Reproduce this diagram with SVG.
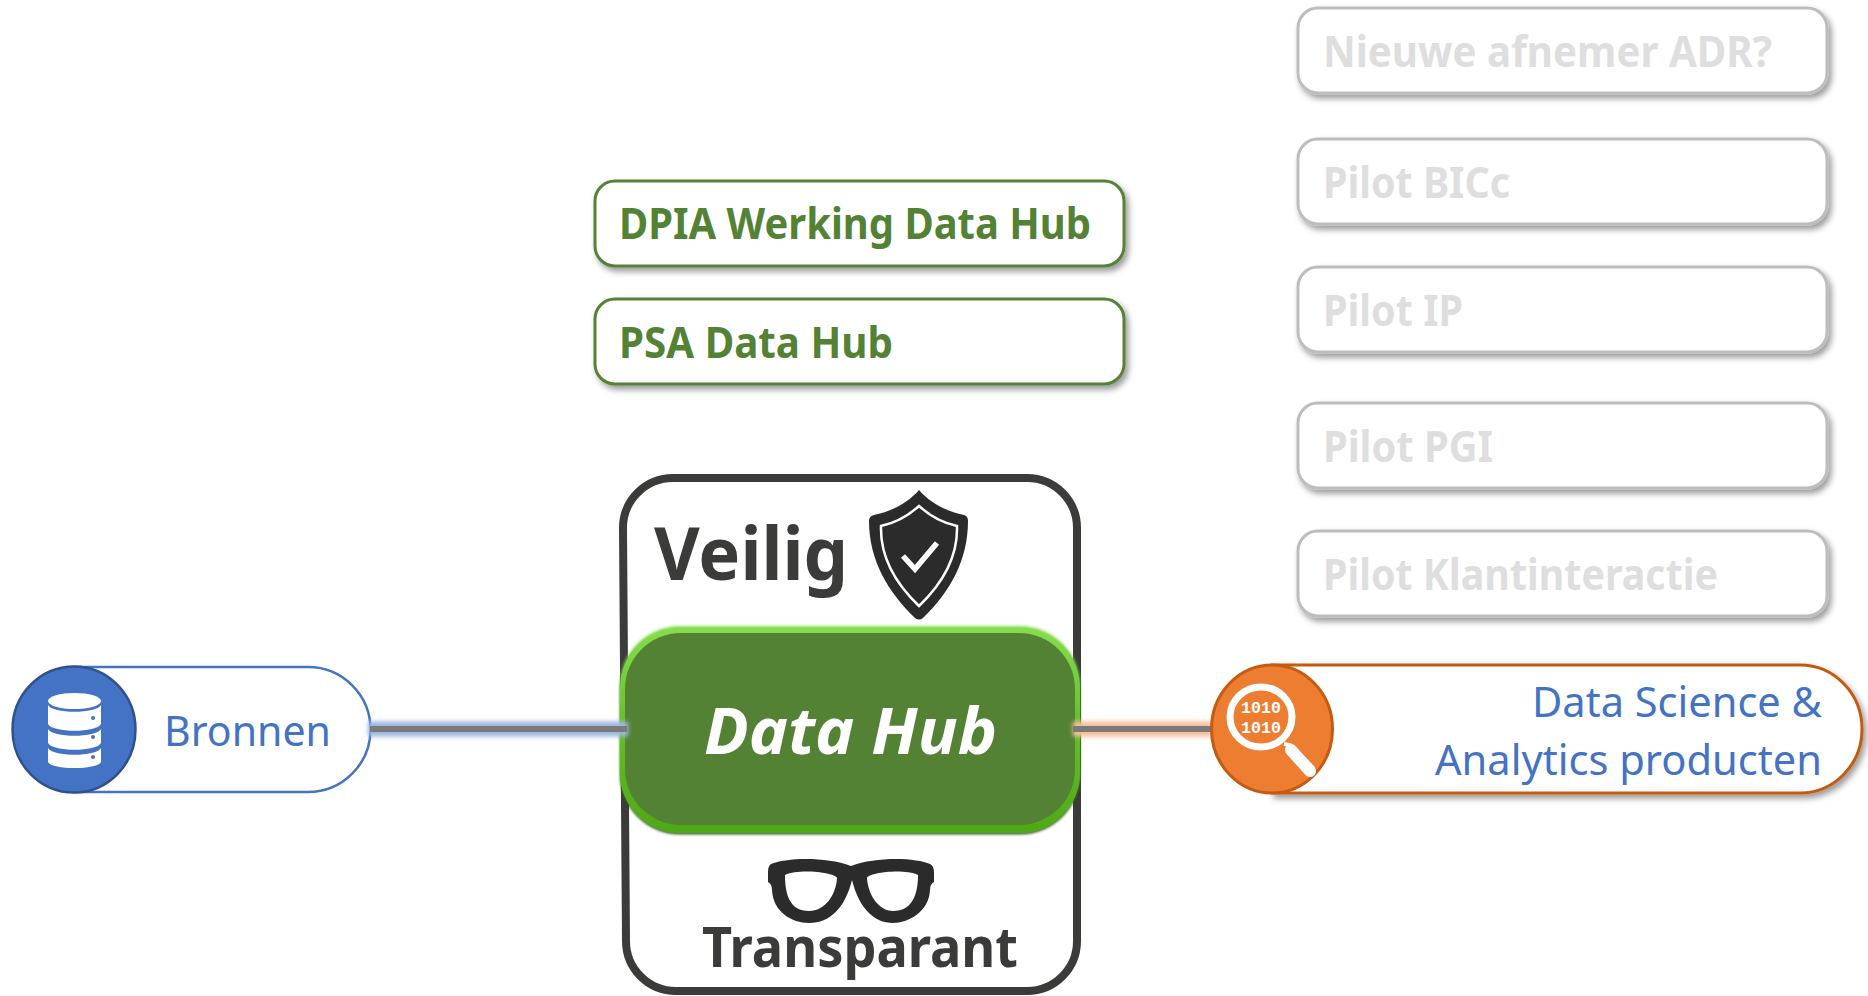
<svg xmlns="http://www.w3.org/2000/svg" width="1868" height="996" viewBox="0 0 1868 996">
<style>
text{font-family:"Noto Sans","Open Sans","Liberation Sans",sans-serif}
.b{font-weight:700;font-size:43px}
.grey rect{fill:#fff;stroke:#BDBDBD;stroke-width:3;filter:url(#sh)}
.grey text{fill:#DEDEDE}
.green rect{fill:#fff;stroke:#548235;stroke-width:3;filter:url(#sh)}
.green text{fill:#548235}
.blue{fill:#4472C4;font-size:42px}
.conn{stroke:#7A7A7A;stroke-width:6;fill:none}
.ink{fill:#3B3B3A;font-weight:700}
.icon{fill:#2B2B2B}
.bits{font-family:"Liberation Mono",monospace;font-size:17px;font-weight:700;fill:#fff}
</style>
<defs>
<filter id="sh" x="-5%" y="-20%" width="110%" height="150%"><feDropShadow dx="3" dy="4" stdDeviation="3" flood-color="#000" flood-opacity=".4"/></filter>
<filter id="bl" filterUnits="userSpaceOnUse" x="300" y="690" width="1000" height="80"><feGaussianBlur stdDeviation="2"/></filter>
<filter id="soft" x="-5%" y="-5%" width="110%" height="110%"><feGaussianBlur stdDeviation="1.500"/></filter>
<filter id="dark" x="-5%" y="-5%" width="110%" height="110%"><feDropShadow dx="0" dy="1.500" stdDeviation="1" flood-color="#1F3A0C" flood-opacity=".8"/></filter>
<linearGradient id="rim" x1="0" y1="0" x2="0" y2="1"><stop offset="0" stop-color="#86DD4E"/><stop offset=".5" stop-color="#62BF28"/><stop offset="1" stop-color="#4FA816"/></linearGradient>
</defs>

<g id="node-adr" class="grey"><rect x="1298" y="8" width="529" height="85" rx="20"/><text class="b" x="1323" y="67" textLength="449" lengthAdjust="spacingAndGlyphs">Nieuwe afnemer ADR?</text></g>
<g id="node-bicc" class="grey"><rect x="1298" y="139" width="529" height="85" rx="20"/><text class="b" x="1323" y="198" textLength="187" lengthAdjust="spacingAndGlyphs">Pilot BICc</text></g>
<g id="node-ip" class="grey"><rect x="1298" y="267" width="529" height="85" rx="20"/><text class="b" x="1323" y="326" textLength="140" lengthAdjust="spacingAndGlyphs">Pilot IP</text></g>
<g id="node-pgi" class="grey"><rect x="1298" y="403" width="529" height="85" rx="20"/><text class="b" x="1323" y="462" textLength="170" lengthAdjust="spacingAndGlyphs">Pilot PGI</text></g>
<g id="node-klant" class="grey"><rect x="1298" y="531" width="529" height="85" rx="20"/><text class="b" x="1323" y="590" textLength="395" lengthAdjust="spacingAndGlyphs">Pilot Klantinteractie</text></g>

<g id="node-dpia" class="green"><rect x="595" y="181" width="529" height="85" rx="20"/><text class="b" x="619" y="239" textLength="472" lengthAdjust="spacingAndGlyphs">DPIA Werking Data Hub</text></g>
<g id="node-psa" class="green"><rect x="595" y="299" width="529" height="85" rx="20"/><text class="b" x="619" y="358" textLength="274" lengthAdjust="spacingAndGlyphs">PSA Data Hub</text></g>

<g id="node-frame">
<path d="M673 478H1027a50 50 0 0 1 50 50V941a50 50 0 0 1 -50 50H676a50 50 0 0 1 -50 -50L623 528a50 50 0 0 1 50 -50Z" fill="#fff" stroke="#3B3B3A" stroke-width="8"/>
<text class="ink" x="654" y="580" font-size="73" textLength="194" lengthAdjust="spacingAndGlyphs">Veilig</text>
<path class="icon" d="M919 490C930 503 948 512 964 515Q968 516 968 521C968 560 950 592 923 618Q919 621 915 618C888 592 869 560 869 521Q869 516 874 515C890 512 908 503 919 490Z"/>
<path d="M919 506C930 516 943 523 957 526C958 558 942 584 919 606C896 584 880 558 881 526C895 523 908 516 919 506Z" fill="none" stroke="#fff" stroke-width="2.500"/>
<path d="M903 556L915 569L937 543" fill="none" stroke="#fff" stroke-width="5.500"/>
<path class="icon" fill-rule="evenodd" d="M771 864C785 858 825 856 851 866C877 856 917 858 930 864Q934 866 934 872V882Q930 884 930 890C929 912 908 923 893 923C874 923 859 908 852 880C845 908 830 923 809 923C792 923 773 912 772 890Q772 884 768 882V872Q768 866 771 864ZM785 875C785 895 790 911 809 911C825 911 836 895 837 878C836 873 800 868 785 875ZM867 878C868 895 879 911 893 911C912 911 918 895 918 875C903 868 868 873 867 878Z"/>
<text class="ink" x="702" y="967" font-size="55" textLength="316" lengthAdjust="spacingAndGlyphs">Transparant</text>
</g>

<g id="node-datahub">
<rect x="620" y="626" width="460" height="206" rx="60" fill="#8BE052" filter="url(#soft)"/>
<rect x="620" y="628" width="460" height="205" rx="60" fill="url(#rim)" filter="url(#dark)"/>
<rect x="625" y="633" width="450" height="192" rx="56" fill="#548235"/>
<text x="704" y="754" font-size="64" font-weight="700" font-style="italic" fill="#fff" textLength="293" lengthAdjust="spacingAndGlyphs">Data Hub</text>
</g>

<g id="node-bronnen">
<path d="M74 667H308a62 62 0 0 1 0 125H74Z" fill="#fff" stroke="#4472C4" stroke-width="2.500"/>
<ellipse cx="74" cy="729.500" rx="61.500" ry="63" fill="#4472C4" stroke="#2F528F" stroke-width="2.500"/>
<g fill="#fff">
<ellipse cx="74.500" cy="701" rx="26.500" ry="8"/>
<path d="M48 705C52 714 97 714 101 705V724C97 733 52 733 48 724Z"/>
<path d="M48 729C52 738 97 738 101 729V743C97 752 52 752 48 743Z"/>
<path d="M48 748C52 757 97 757 101 748V762C97 770 52 770 48 762Z"/>
</g>
<circle cx="93" cy="718" r="2" fill="#4472C4"/><circle cx="93" cy="737" r="2" fill="#4472C4"/><circle cx="93" cy="757" r="2" fill="#4472C4"/>
<text class="blue" x="164" y="746" textLength="167" lengthAdjust="spacingAndGlyphs">Bronnen</text>
</g>

<g id="connectors">
<path d="M368 729H628" stroke="#9DB6E0" stroke-width="15" fill="none" filter="url(#bl)"/>
<path d="M1073 729H1212" stroke="#F6BE9B" stroke-width="15" fill="none" filter="url(#bl)"/>
<path class="conn" d="M370 729H627"/>
<path class="conn" d="M1073 729H1212"/>
</g>

<g id="node-dsa">
<path d="M1272 665H1800a62 64 0 0 1 0 128H1272Z" fill="#fff" stroke="#C55A11" stroke-width="3" filter="url(#sh)"/>
<ellipse cx="1272" cy="729" rx="60.500" ry="64" fill="#ED7D31" stroke="#C55A11" stroke-width="3"/>
<ellipse cx="1261" cy="717" rx="31" ry="30" fill="none" stroke="#fff" stroke-width="7"/>
<path d="M1284 744L1290 745L1313 768" stroke="#fff" stroke-width="4" fill="none"/>
<path d="M1291 750L1310 771" stroke="#fff" stroke-width="12" stroke-linecap="round" fill="none"/>
<text class="bits" x="1241" y="713" textLength="40" lengthAdjust="spacingAndGlyphs">1010</text>
<text class="bits" x="1241" y="733" textLength="40" lengthAdjust="spacingAndGlyphs">1010</text>
<text class="blue" x="1532" y="717" textLength="290" lengthAdjust="spacingAndGlyphs">Data Science &amp;</text>
<text class="blue" x="1435" y="775" textLength="387" lengthAdjust="spacingAndGlyphs">Analytics producten</text>
</g>
</svg>
